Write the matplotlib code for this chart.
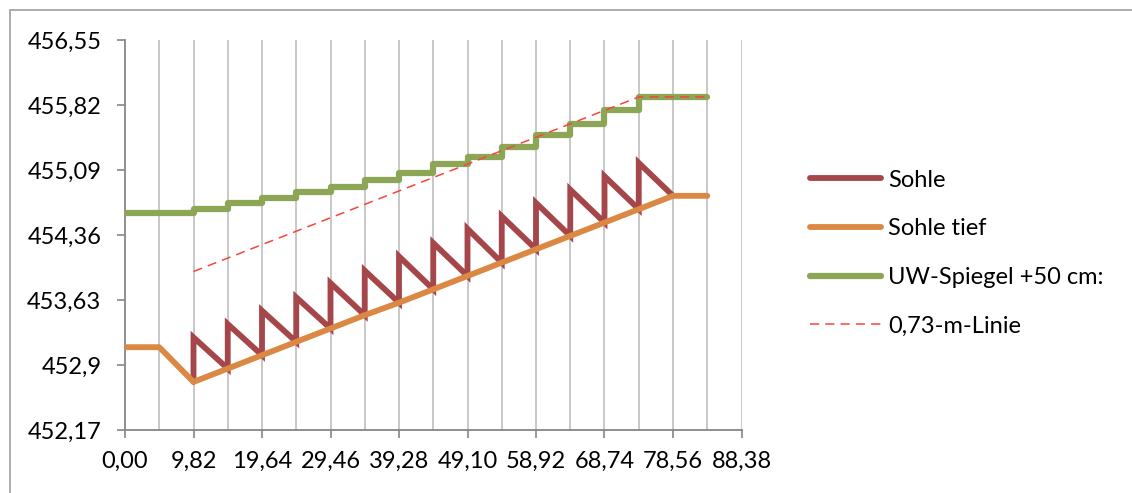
import matplotlib
matplotlib.use("Agg")
import matplotlib.pyplot as plt
from matplotlib.patches import Rectangle

# Stationen (m) - ein Gitterstrich je Station
stationen = [0.00, 4.91, 9.82, 14.73, 19.64, 24.55, 29.46, 34.37, 39.28,
             44.19, 49.10, 54.01, 58.92, 63.83, 68.74, 73.65, 78.56, 83.47]

# Sohle tief, je Station
sohle_tief = [453.10, 453.10, 452.71, 452.86, 453.01, 453.16, 453.31, 453.46, 453.60,
              453.75, 453.90, 454.05, 454.20, 454.35, 454.50, 454.65, 454.80, 454.80]

# Sohle (Saegezahn): Spitzen an den Stationen 9,82 .. 73,65
sohle_spitze = [453.21, 453.36, 453.51, 453.66, 453.82, 453.96, 454.12,
                454.27, 454.43, 454.57, 454.72, 454.87, 455.02, 455.17]

# UW-Spiegel +50 cm, Stufen an den Stationen
uw_spiegel = [454.61, 454.61, 454.65, 454.72, 454.78, 454.84, 454.90, 454.98, 455.06,
              455.16, 455.24, 455.35, 455.48, 455.61, 455.76, 455.91, 455.91, 455.91]

# 0,73-m-Linie
linie_x = [9.82, 73.65, 83.47]
linie_y = [453.95, 455.91, 455.91]

x_ticks = [0.00, 9.82, 19.64, 29.46, 39.28, 49.10, 58.92, 68.74, 78.56, 88.38]
x_labels = ["0,00", "9,82", "19,64", "29,46", "39,28", "49,10", "58,92", "68,74", "78,56", "88,38"]
y_ticks = [452.17, 452.9, 453.63, 454.36, 455.09, 455.82, 456.55]
y_labels = ["452,17", "452,9", "453,63", "454,36", "455,09", "455,82", "456,55"]

# Saegezahn aus Stationen aufbauen
sx, sy = [], []
for i, spitze in enumerate(sohle_spitze):
    sx += [stationen[i + 2], stationen[i + 2]]
    sy += [sohle_tief[i + 2], spitze]
sx.append(stationen[16])
sy.append(sohle_tief[16])

plt.rcParams['font.family'] = ['Lato', 'DejaVu Sans']

fig = plt.figure(figsize=(11.32, 4.93), dpi=100)
ax = fig.add_axes([125 / 1132, 1 - 430 / 493, (741.5 - 125) / 1132, (430 - 40) / 493])

# Rahmen des Diagrammbereichs
fig.patches.append(Rectangle((9.5 / 1132, -0.2), 1.2, 1.2 - 9.5 / 493, transform=fig.transFigure,
                             fill=False, edgecolor='#A6A6A6', linewidth=1.3))

ax.plot(sx, sy, color='#A5474A', linewidth=4.2, solid_joinstyle='miter',
        solid_capstyle='round', label='Sohle', zorder=3)
ax.plot(stationen, sohle_tief, color='#DB8844', linewidth=4.2,
        solid_capstyle='round', solid_joinstyle='round', label='Sohle tief', zorder=4)
ax.plot(stationen, uw_spiegel, drawstyle='steps-post', color='#8DA656', linewidth=4.5,
        solid_capstyle='round', label='UW-Spiegel +50 cm:', zorder=5)
ax.plot(linie_x, linie_y, color='#F4463A', linewidth=1.1, dashes=(6, 4),
        label='0,73-m-Linie', zorder=6)

ax.set_xlim(0, 88.38)
ax.set_ylim(452.17, 456.55)

# senkrechte Gitterlinien an jeder Station
for s in stationen[1:] + [88.38]:
    ax.axvline(s, color='#BFBFBF', linewidth=1.2, zorder=1)

ax.set_xticks(x_ticks)
ax.set_xticklabels(x_labels)
ax.set_yticks(y_ticks)
ax.set_yticklabels(y_labels)
ax.tick_params(axis='both', direction='out', length=6, width=1.2, color='#868686',
               labelsize=17, labelcolor='black')
ax.tick_params(axis='x', pad=9)
ax.tick_params(axis='y', pad=11)

for side in ['top', 'right']:
    ax.spines[side].set_visible(False)
for side in ['left', 'bottom']:
    ax.spines[side].set_color('#868686')
    ax.spines[side].set_linewidth(1.3)
    ax.spines[side].set_zorder(2)

leg = ax.legend(loc='center left', bbox_to_anchor=(810 / 1132, 1 - 253 / 493),
                bbox_transform=fig.transFigure, frameon=False, fontsize=17,
                handlelength=3.0, handletextpad=0.3, labelspacing=1.17,
                borderpad=0, borderaxespad=0)

fig.savefig('out.png', dpi=100)
